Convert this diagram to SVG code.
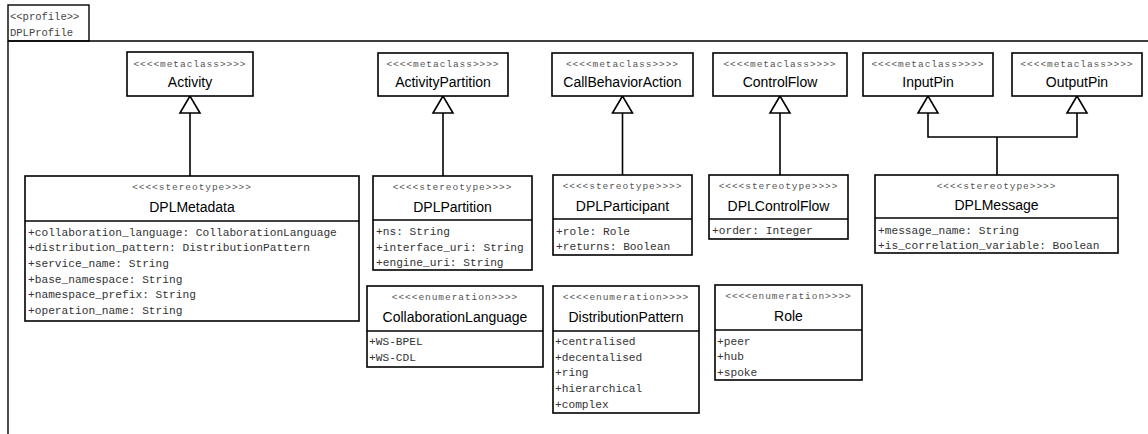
<svg xmlns="http://www.w3.org/2000/svg" width="1148" height="434" viewBox="0 0 1148 434">
<style>
.bg{fill:#fff}
.box{fill:#fff;stroke:#000;stroke-width:1.6}
.div{stroke:#000;stroke-width:1.6;fill:none}
.st{font-family:"Liberation Mono",monospace;font-size:9.5px;letter-spacing:0.95px;fill:#555;text-anchor:middle}
.nm{font-family:"Liberation Sans",Arial,sans-serif;font-size:14px;fill:#000;text-anchor:middle}
.at{font-family:"Liberation Mono",monospace;font-size:11.2px;fill:#333}
.pf{font-family:"Liberation Mono",monospace;font-size:10.5px;fill:#444}
.ln{stroke:#000;stroke-width:1.6;fill:none}
.tri{fill:#fff;stroke:#000;stroke-width:1.6;stroke-linejoin:miter}
</style>
<rect class="bg" x="0" y="0" width="1148" height="434"/>
<g id="profile">
<rect x="8" y="5" width="81" height="36" fill="#fff" stroke="#000" stroke-width="1.4"/>
<text class="pf" x="10" y="20">&lt;&lt;profile&gt;&gt;</text>
<text class="pf" x="10" y="36">DPLProfile</text>
<path d="M8 41H1148M8 41V434" stroke="#000" stroke-width="1.4" fill="none"/>
</g>
<g id="connectors">
<path class="ln" d="M190 113V176"/>
<path class="tri" d="M190 96L180 113H200Z"/>
<path class="ln" d="M443 113V176"/>
<path class="tri" d="M443 96L433 113H453Z"/>
<path class="ln" d="M622.5 113V175"/>
<path class="tri" d="M622.5 96L612.5 113H632.5Z"/>
<path class="ln" d="M780 113V175"/>
<path class="tri" d="M780 96L770 113H790Z"/>
<path class="ln" d="M928 113V137H1077V113M997 137V175"/>
<path class="tri" d="M928 96L918 113H938Z"/>
<path class="tri" d="M1077 96L1067 113H1087Z"/>
</g>
<g id="Activity">
<rect class="box" x="127" y="52" width="126" height="44"/>
<text class="st" x="190" y="67">&lt;&lt;&lt;&lt;metaclass&gt;&gt;&gt;&gt;</text>
<text class="nm" x="190" y="87">Activity</text>
</g>
<g id="ActivityPartition">
<rect class="box" x="378" y="53" width="130" height="43"/>
<text class="st" x="443" y="67">&lt;&lt;&lt;&lt;metaclass&gt;&gt;&gt;&gt;</text>
<text class="nm" x="443" y="87">ActivityPartition</text>
</g>
<g id="CallBehaviorAction">
<rect class="box" x="552" y="53" width="141" height="43"/>
<text class="st" x="622.5" y="67">&lt;&lt;&lt;&lt;metaclass&gt;&gt;&gt;&gt;</text>
<text class="nm" x="622.5" y="87">CallBehaviorAction</text>
</g>
<g id="ControlFlow">
<rect class="box" x="713" y="53" width="134" height="43"/>
<text class="st" x="780" y="67">&lt;&lt;&lt;&lt;metaclass&gt;&gt;&gt;&gt;</text>
<text class="nm" x="780" y="87">ControlFlow</text>
</g>
<g id="InputPin">
<rect class="box" x="863" y="53" width="130" height="43"/>
<text class="st" x="928" y="67">&lt;&lt;&lt;&lt;metaclass&gt;&gt;&gt;&gt;</text>
<text class="nm" x="928" y="87">InputPin</text>
</g>
<g id="OutputPin">
<rect class="box" x="1012" y="53" width="130" height="43"/>
<text class="st" x="1077" y="67">&lt;&lt;&lt;&lt;metaclass&gt;&gt;&gt;&gt;</text>
<text class="nm" x="1077" y="87">OutputPin</text>
</g>
<g id="DPLMetadata">
<rect class="box" x="25" y="176" width="334" height="145"/>
<path class="div" d="M25 221H359"/>
<text class="st" x="192" y="190">&lt;&lt;&lt;&lt;stereotype&gt;&gt;&gt;&gt;</text>
<text class="nm" x="192" y="212">DPLMetadata</text>
<text class="at" x="28" y="235.5">+collaboration_language: CollaborationLanguage</text>
<text class="at" x="28" y="251.2">+distribution_pattern: DistributionPattern</text>
<text class="at" x="28" y="266.9">+service_name: String</text>
<text class="at" x="28" y="282.6">+base_namespace: String</text>
<text class="at" x="28" y="298.3">+namespace_prefix: String</text>
<text class="at" x="28" y="314">+operation_name: String</text>
</g>
<g id="DPLPartition">
<rect class="box" x="373" y="176" width="159" height="94"/>
<path class="div" d="M373 220H532"/>
<text class="st" x="452.5" y="190">&lt;&lt;&lt;&lt;stereotype&gt;&gt;&gt;&gt;</text>
<text class="nm" x="452.5" y="212">DPLPartition</text>
<text class="at" x="376" y="235">+ns: String</text>
<text class="at" x="376" y="250.7">+interface_uri: String</text>
<text class="at" x="376" y="266.4">+engine_uri: String</text>
</g>
<g id="DPLParticipant">
<rect class="box" x="553" y="175" width="139" height="80"/>
<path class="div" d="M553 219H692"/>
<text class="st" x="622.5" y="189">&lt;&lt;&lt;&lt;stereotype&gt;&gt;&gt;&gt;</text>
<text class="nm" x="622.5" y="211">DPLParticipant</text>
<text class="at" x="556" y="234.5">+role: Role</text>
<text class="at" x="556" y="250.2">+returns: Boolean</text>
</g>
<g id="DPLControlFlow">
<rect class="box" x="709" y="175" width="139" height="64"/>
<path class="div" d="M709 219H848"/>
<text class="st" x="778.5" y="189">&lt;&lt;&lt;&lt;stereotype&gt;&gt;&gt;&gt;</text>
<text class="nm" x="778.5" y="211">DPLControlFlow</text>
<text class="at" x="712" y="234">+order: Integer</text>
</g>
<g id="DPLMessage">
<rect class="box" x="875" y="175" width="243" height="78"/>
<path class="div" d="M875 218H1118"/>
<text class="st" x="996.5" y="189">&lt;&lt;&lt;&lt;stereotype&gt;&gt;&gt;&gt;</text>
<text class="nm" x="996.5" y="210">DPLMessage</text>
<text class="at" x="878" y="233.5">+message_name: String</text>
<text class="at" x="878" y="249">+is_correlation_variable: Boolean</text>
</g>
<g id="CollaborationLanguage">
<rect class="box" x="367" y="286" width="176" height="81"/>
<path class="div" d="M367 331H543"/>
<text class="st" x="455" y="300">&lt;&lt;&lt;&lt;enumeration&gt;&gt;&gt;&gt;</text>
<text class="nm" x="455" y="322">CollaborationLanguage</text>
<text class="at" x="369" y="345">+WS-BPEL</text>
<text class="at" x="369" y="360.7">+WS-CDL</text>
</g>
<g id="DistributionPattern">
<rect class="box" x="553" y="286" width="146" height="127"/>
<path class="div" d="M553 331H699"/>
<text class="st" x="626" y="300">&lt;&lt;&lt;&lt;enumeration&gt;&gt;&gt;&gt;</text>
<text class="nm" x="626" y="322">DistributionPattern</text>
<text class="at" x="555" y="345">+centralised</text>
<text class="at" x="555" y="360.7">+decentalised</text>
<text class="at" x="555" y="376.4">+ring</text>
<text class="at" x="555" y="392.1">+hierarchical</text>
<text class="at" x="555" y="407.8">+complex</text>
</g>
<g id="Role">
<rect class="box" x="715" y="285" width="147" height="95"/>
<path class="div" d="M715 330H862"/>
<text class="st" x="788.5" y="299">&lt;&lt;&lt;&lt;enumeration&gt;&gt;&gt;&gt;</text>
<text class="nm" x="788.5" y="321">Role</text>
<text class="at" x="717" y="344.5">+peer</text>
<text class="at" x="717" y="360.2">+hub</text>
<text class="at" x="717" y="375.9">+spoke</text>
</g>
</svg>
